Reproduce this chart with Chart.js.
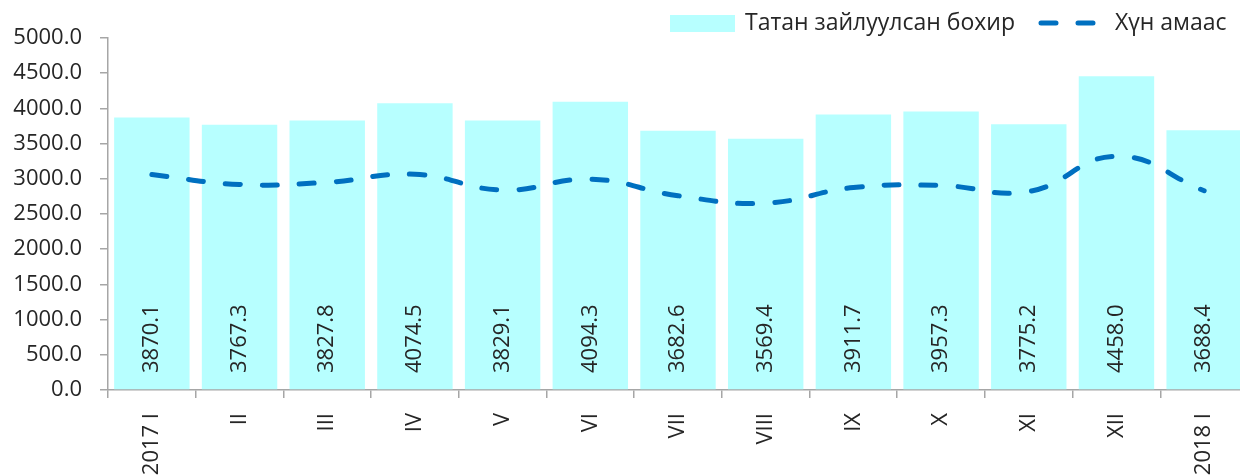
<!DOCTYPE html>
<html>
<head>
<meta charset="utf-8">
<script src="https://cdn.jsdelivr.net/npm/chart.js@4/dist/chart.umd.min.js"></script>
<style>
  html, body { margin: 0; padding: 0; background: #fff; overflow: hidden; }
  #wrap { width: 1250px; height: 475px; }
</style>
</head>
<body>
<div id="wrap"><canvas id="chart" width="1250" height="475"></canvas></div>
<script>
// Months (2017 I ... 2018 I)
const months = ['2017 I', 'II', 'III', 'IV', 'V', 'VI', 'VII', 'VIII', 'IX', 'X', 'XI', 'XII', '2018 I'];
// Татан зайлуулсан бохир
const drained = [3870.1, 3767.3, 3827.8, 4074.5, 3829.1, 4094.3, 3682.6, 3569.4, 3911.7, 3957.3, 3775.2, 4458.0, 3688.4];
// Хүн амаас
const population = [3060, 2920, 2950, 3065, 2840, 2995, 2760, 2655, 2875, 2905, 2820, 3320, 2830];
const yTicks = [0, 500, 1000, 1500, 2000, 2500, 3000, 3500, 4000, 4500, 5000];

const FONT = '"Open Sans", sans-serif';
const TEXT = '#262626';
const AXIS = '#a6a6a6';
const BAR = '#b7ffff';
const LINE = '#0070c0';

// vertical value labels inside the bars
const barLabels = {
    id: 'barLabels',
    afterDatasetsDraw(chart) {
        const ctx = chart.ctx;
        const meta = chart.getDatasetMeta(0);
        const base = chart.scales.y.getPixelForValue(0);
        ctx.save();
        ctx.font = `22px ${FONT}`;
        ctx.fillStyle = TEXT;
        ctx.textAlign = 'left';
        ctx.textBaseline = 'middle';
        meta.data.forEach((bar, i) => {
            ctx.save();
            ctx.translate(bar.x, base - 17);
            ctx.rotate(-Math.PI / 2);
            ctx.fillText(drained[i].toFixed(1), 0, 0);
            ctx.restore();
        });
        ctx.restore();
    }
};

// legend in the top right corner
const legendBox = {
    id: 'legendBox',
    afterDraw(chart) {
        const ctx = chart.ctx;
        const y = 23;
        ctx.save();
        ctx.font = `23px ${FONT}`;
        ctx.fillStyle = BAR;
        ctx.fillRect(670, 15, 65, 17);
        ctx.fillStyle = TEXT;
        ctx.textBaseline = 'middle';
        ctx.textAlign = 'left';
        ctx.fillText('Татан зайлуулсан бохир', 745, y);

        ctx.strokeStyle = LINE;
        ctx.lineWidth = 5;
        ctx.lineCap = 'round';
        ctx.setLineDash([15, 22]);
        ctx.beginPath();
        ctx.moveTo(1041, y);
        ctx.lineTo(1095, y);
        ctx.stroke();
        ctx.setLineDash([]);
        ctx.fillText('Хүн амаас', 1115, y);
        ctx.restore();
    }
};

const chart = new Chart(document.getElementById('chart'), {
    data: {
        labels: months,
        datasets: [
            {
                type: 'line',
                label: 'Хүн амаас',
                data: population,
                borderColor: LINE,
                borderWidth: 5,
                borderDash: [15, 22],
                borderCapStyle: 'round',
                tension: 0.45,
                pointRadius: 0,
                fill: false,
                order: 0
            },
            {
                type: 'bar',
                label: 'Татан зайлуулсан бохир',
                data: drained,
                backgroundColor: BAR,
                borderWidth: 0,
                barPercentage: 0.86,
                categoryPercentage: 1.0,
                order: 1
            }
        ]
    },
    options: {
        responsive: false,
        animation: false,
        layout: {
            padding: { left: 0, right: 2, top: 38, bottom: 0 }
        },
        scales: {
            x: {
                offset: true,
                grid: {
                    display: true,
                    offset: true,
                    drawOnChartArea: false,
                    color: AXIS,
                    tickLength: 8,
                    lineWidth: 1.5
                },
                border: { color: AXIS, width: 1.5 },
                ticks: {
                    color: TEXT,
                    font: { family: FONT, size: 22 },
                    minRotation: 90,
                    maxRotation: 90,
                    autoSkip: false,
                    padding: 15
                },
                afterFit(scale) { scale.height = 85; }
            },
            y: {
                min: 0,
                max: 5000,
                afterBuildTicks(scale) {
                    scale.ticks = yTicks.map(v => ({ value: v }));
                },
                grid: {
                    display: true,
                    drawOnChartArea: false,
                    color: AXIS,
                    tickLength: 8,
                    lineWidth: 1.5
                },
                border: { color: AXIS, width: 1.5 },
                ticks: {
                    color: TEXT,
                    font: { family: FONT, size: 22 },
                    padding: 18,
                    callback: v => Number(v).toFixed(1)
                },
                afterFit(scale) { scale.width = 108; }
            }
        },
        plugins: {
            legend: { display: false },
            tooltip: { enabled: false }
        }
    },
    plugins: [barLabels, legendBox]
});
</script>
</body>
</html>
